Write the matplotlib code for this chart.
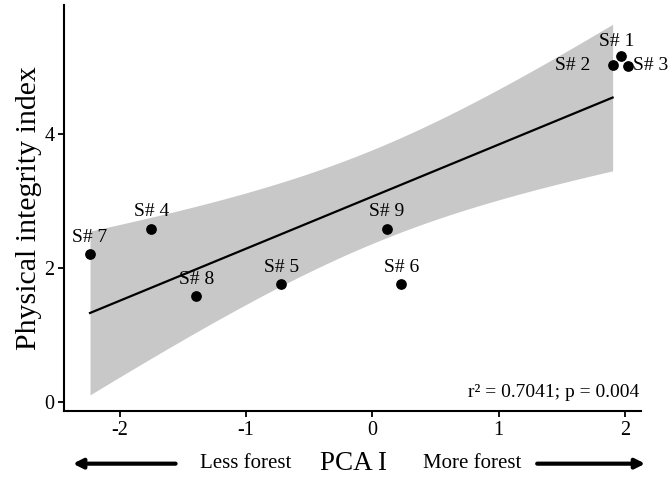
import matplotlib
matplotlib.use("Agg")
import matplotlib.pyplot as plt
import numpy as np

plt.rcParams['font.family'] = ['Liberation Serif', 'DejaVu Serif']
plt.rcParams['axes.unicode_minus'] = False

# site scores on the first PCA axis and the physical integrity index
sites = ["S# 1", "S# 2", "S# 3", "S# 4", "S# 5", "S# 6", "S# 7", "S# 8", "S# 9"]
pca1 = np.array([1.966, 1.903, 2.024, -1.750, -0.719, 0.229, -2.235, -1.394, 0.116])
integrity = np.array([5.17, 5.03, 5.02, 2.59, 1.76, 1.76, 2.21, 1.59, 2.59])
stats_text = "r\u00b2 = 0.7041; p = 0.004"
fit_xmax = 1.903
t_crit = 2.3646  # t(0.975, df = 7)

# label offsets in points (dx, dy, ha)
label_pos = {
    "S# 1": (-3, 10, "center"),
    "S# 2": (-16, 0, "right"),
    "S# 3": (4, 0, "left"),
}

# linear fit + 95% confidence band
n = len(pca1)
mx = pca1.mean()
sxx = ((pca1 - mx) ** 2).sum()
slope = ((pca1 - mx) * (integrity - integrity.mean())).sum() / sxx
intercept = integrity.mean() - slope * mx
resid = integrity - (intercept + slope * pca1)
s = np.sqrt((resid ** 2).sum() / (n - 2))
xg = np.linspace(pca1.min(), fit_xmax, 100)
yg = intercept + slope * xg
se = s * np.sqrt(1 / n + (xg - mx) ** 2 / sxx)

fig = plt.figure(figsize=(6.68, 4.79), dpi=100)
ax = fig.add_axes([0.096, 0.142, 0.864, 0.848])

ax.fill_between(xg, yg - t_crit * se, yg + t_crit * se, color="#c8c8c8", lw=0, zorder=1)
ax.plot(xg, yg, color="black", lw=1.6, zorder=2)
ax.scatter(pca1, integrity, s=45, color="black", zorder=3)

for name, x, y in zip(sites, pca1, integrity):
    dx, dy, ha = label_pos.get(name, (0, 12, "center"))
    ax.annotate(name, (x, y), xytext=(dx, dy), textcoords="offset points",
                ha=ha, va="center", fontsize=14)

ax.text(0.997, 0.045, stats_text, transform=ax.transAxes, ha="right", va="center", fontsize=14)

ax.set_xlim(-2.44, 2.13)
ax.set_ylim(-0.13, 5.93)
ax.set_xticks([-2, -1, 0, 1, 2])
ax.set_yticks([0, 2, 4])
for side in ["top", "right"]:
    ax.spines[side].set_visible(False)
for side in ["left", "bottom"]:
    ax.spines[side].set_linewidth(1.5)
ax.tick_params(width=1.3, length=4, labelsize=14.5, colors="black", pad=3)

ax.set_ylabel("Physical integrity index", fontsize=21.5, labelpad=2)

# bottom row: direction arrows and axis title
fig.text(0.529, 0.033, "PCA I", ha="center", va="center", fontsize=19.5)
fig.text(0.368, 0.033, "Less forest", ha="center", va="center", fontsize=15)
fig.text(0.707, 0.033, "More forest", ha="center", va="center", fontsize=15)
arrow = dict(arrowstyle="-|>", lw=3, color="black", mutation_scale=14)
ax.annotate("", xy=(0.105, 0.032), xytext=(0.267, 0.032), xycoords="figure fraction",
            textcoords="figure fraction", arrowprops=arrow)
ax.annotate("", xy=(0.97, 0.032), xytext=(0.80, 0.032), xycoords="figure fraction",
            textcoords="figure fraction", arrowprops=arrow)

plt.savefig("out.png", dpi=100)
